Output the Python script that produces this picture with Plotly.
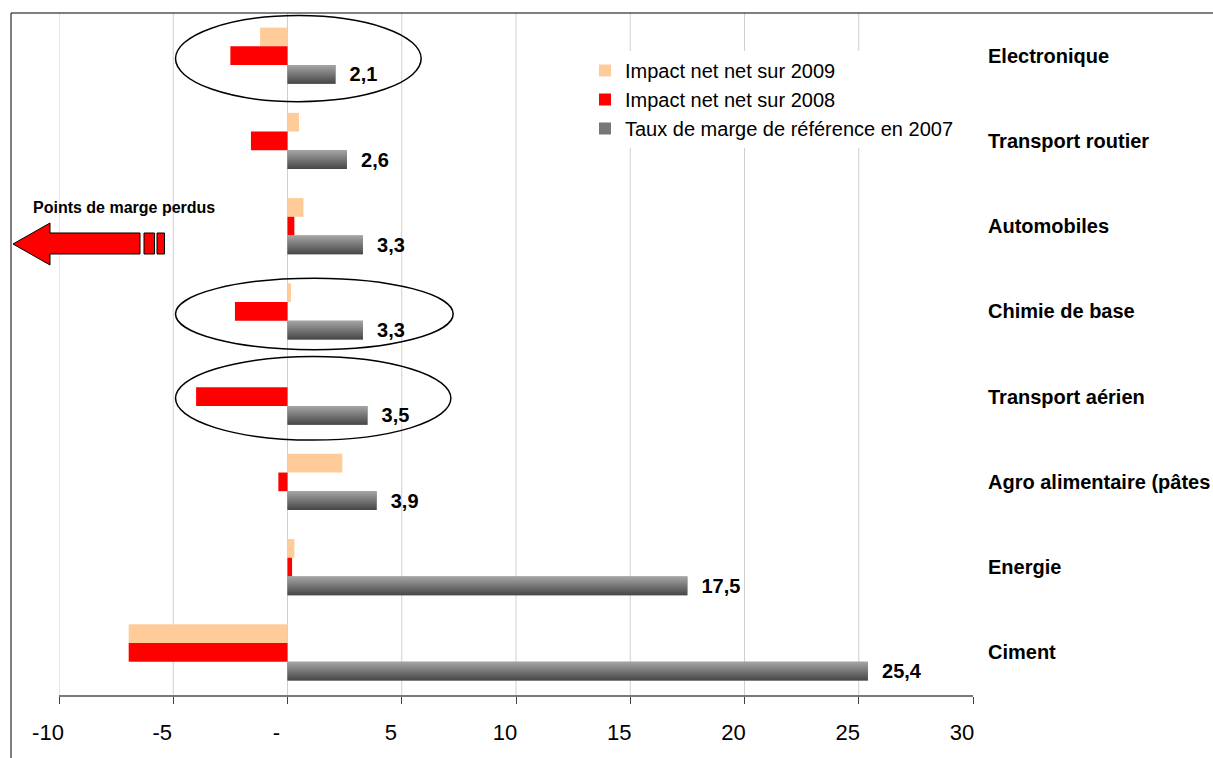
import plotly.graph_objects as go

# ---------------- data ----------------
categories = ["Electronique", "Transport routier", "Automobiles", "Chimie de base",
              "Transport aérien", "Agro alimentaire (pâtes", "Energie", "Ciment"]
impact_2009 = [-1.2, 0.5, 0.7, 0.15, 0.0, 2.4, 0.3, -6.95]
impact_2008 = [-2.5, -1.6, 0.3, -2.3, -4.0, -0.4, 0.2, -6.95]
marge_2007 = [2.1, 2.6, 3.3, 3.3, 3.5, 3.9, 17.5, 25.4]
series_names = ["Impact net net sur 2009", "Impact net net sur 2008",
                "Taux de marge de référence en 2007"]
x_tick_values = [-10, -5, 0, 5, 10, 15, 20, 25, 30]
x_tick_labels = ["-10", "-5", "-", "5", "10", "15", "20", "25", "30"]
arrow_label = "Points de marge perdus"

# ---------------- style / geometry ----------------
W, H = 1213, 758
ML, MR, MT, MB = 59, 240, 13, 63
PW, PH = W - ML - MR, H - MT - MB
FONT = "Arial, Liberation Sans, sans-serif"
C2009, C2008, C2007 = "#FFCC99", "#FF0000", "#777777"
GRAD = [[0, "#a6a6a6"], [1, "#464646"]]
GRIDCOL = "#cfcfcf"
BARGAP = 0.343
NS = 3
BW = (1 - BARGAP) / NS
OFFS = [-(1 - BARGAP) / 2 + k * BW for k in range(NS)]

pos = list(range(len(categories)))


def px2paper(px, py):
    return (px - ML) / PW, 1 - (py - MT) / PH


fig = go.Figure()

for k, (vals, name, col) in enumerate(zip([impact_2009, impact_2008, marge_2007],
                                         series_names, [C2009, C2008, C2007])):
    kw = {}
    if k == 2:
        kw = dict(text=["<b>\u00a0\u00a0" + f"{v:.1f}".replace(".", ",") + "</b>" for v in vals],
                  textposition="outside", cliponaxis=False, constraintext="none",
                  textfont=dict(family=FONT, size=20, color="black"))
    fig.add_trace(go.Bar(
        y=pos, x=vals, orientation="h", name=name,
        marker=dict(color=col, line=dict(width=0)),
        width=BW, offset=OFFS[k], hoverinfo="x+name", **kw))

# gradient fill for the reference-margin bars
for p, v in zip(pos, marge_2007):
    y0 = p + OFFS[2]
    y1 = y0 + BW
    fig.add_trace(go.Scatter(
        x=[0, v, v, 0, 0], y=[y0, y0, y1, y1, y0], mode="none", fill="toself",
        fillgradient=dict(type="vertical", colorscale=GRAD, start=y0, stop=y1),
        showlegend=False, hoverinfo="skip"))

shapes = []
# vertical gridlines (none at the right edge, as in the original)
for v in x_tick_values[:-1]:
    shapes.append(dict(type="line", xref="x", yref="paper", x0=v, x1=v, y0=0, y1=1,
                       line=dict(color=GRIDCOL, width=1), layer="below"))

# ellipses around some groups (style positions)
ellipses = [("Electronique", -4.9, 5.85, -0.47, 0.54),
            ("Chimie de base", -4.9, 7.25, -0.39, 0.45),
            ("Transport aérien", -4.9, 7.15, -0.47, 0.51)]
for cat, x0, x1, d0, d1 in ellipses:
    p = categories.index(cat)
    shapes.append(dict(type="circle", xref="x", yref="y", x0=x0, x1=x1,
                       y0=p + d0, y1=p + d1, line=dict(color="black", width=1.5),
                       layer="above"))

# left arrow (striped arrow), pixel geometry -> paper
arrow_px = [(13, 244), (50, 223), (50, 233), (140, 233), (140, 254), (50, 254), (50, 265)]
path = "M " + " L ".join("%.5f,%.5f" % px2paper(x, y) for x, y in arrow_px) + " Z"
shapes.append(dict(type="path", xref="paper", yref="paper", path=path,
                   fillcolor="#FF0000", line=dict(color="black", width=1), layer="above"))
for xa, xb in [(144, 154.5), (157, 164.5)]:
    a = px2paper(xa, 233)
    b = px2paper(xb, 254)
    shapes.append(dict(type="rect", xref="paper", yref="paper", x0=a[0], x1=b[0],
                       y0=a[1], y1=b[1], fillcolor="#FF0000",
                       line=dict(color="black", width=1), layer="above"))

# chart-area border (left and top)
bl = px2paper(11, 13)
shapes.append(dict(type="line", xref="paper", yref="paper", x0=bl[0], x1=bl[0],
                   y0=-0.3, y1=bl[1], line=dict(color="black", width=1)))
shapes.append(dict(type="line", xref="paper", yref="paper", x0=bl[0], x1=1.5,
                   y0=bl[1], y1=bl[1], line=dict(color="black", width=1)))

ax_, ay_ = px2paper(124, 208)
annotations = [dict(text="<b>" + arrow_label + "</b>", xref="paper", yref="paper",
                    x=ax_, y=ay_, showarrow=False, xanchor="center", yanchor="middle",
                    font=dict(family=FONT, size=16, color="black"))]

lx, ly = px2paper(585, 51)
fig.update_layout(
    width=W, height=H, margin=dict(l=ML, r=MR, t=MT, b=MB, pad=0, autoexpand=False),
    paper_bgcolor="white", plot_bgcolor="white",
    font=dict(family=FONT, color="black"),
    barmode="overlay", shapes=shapes, annotations=annotations,
    showlegend=True,
    legend=dict(x=lx, y=ly, xanchor="left", yanchor="top", bgcolor="white",
                font=dict(family=FONT, size=20, color="black"), traceorder="normal",
                itemclick=False),
    xaxis=dict(range=[-10, 30], tickvals=x_tick_values, ticktext=x_tick_labels,
               automargin=False,
               showgrid=False, zeroline=False,
               showline=True, linecolor="#7a7a7a", linewidth=1.5,
               ticks="outside", ticklen=7, tickcolor="#404040", tickwidth=1,
               ticklabelshift=-11, ticklabelstandoff=10,
               tickfont=dict(family=FONT, size=22, color="black")),
    yaxis=dict(range=[len(categories) - 0.5, -0.5], tickvals=pos, ticktext=categories,
               automargin=False,
               side="right", showgrid=False, zeroline=False, showline=False,
               ticks="", ticklabelstandoff=14,
               tickfont=dict(family=FONT, size=20, color="black", weight="bold")),
)

fig.write_html("out.html")
